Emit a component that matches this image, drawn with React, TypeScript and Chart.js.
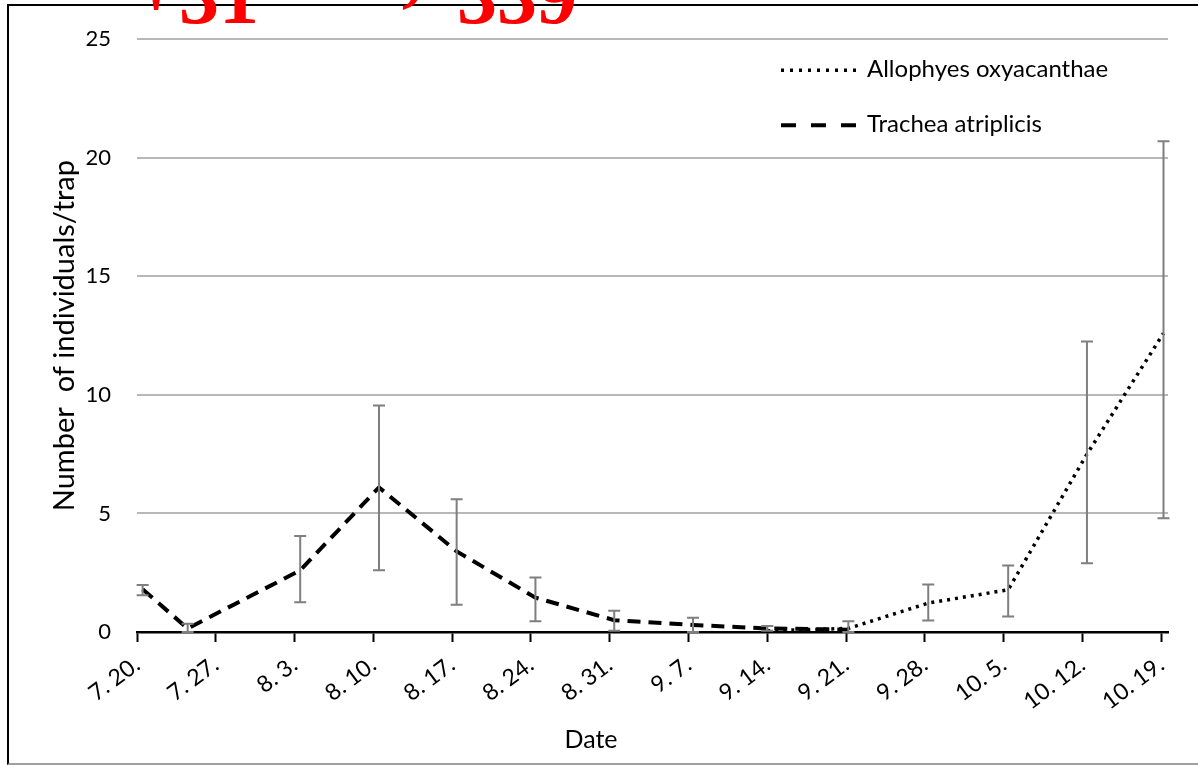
import React, { useEffect, useRef } from "react";
import { Chart, registerables } from "chart.js";

Chart.register(...registerables);

// ---- data ----
const tickLabels = [
  "7. 20.", "7. 27.", "8. 3.", "8. 10.", "8. 17.", "8. 24.", "8. 31.",
  "9. 7.", "9. 14.", "9. 21.", "9. 28.", "10. 5.", "10. 12.", "10. 19.",
];
const tickDays = [0, 7, 14, 21, 28, 35, 42, 49, 56, 63, 70, 77, 84, 91];

const seriesNames = ["Allophyes oxyacanthae", "Trachea atriplicis"];

// Allophyes oxyacanthae (days after 7.20)
const alDays = [56, 63.2, 70.3, 77.4, 84.4, 91.2];
const alMean = [0.05, 0.15, 1.22, 1.78, 7.5, 12.6];
const alLow = [0.05, 0.0, 0.48, 0.65, 2.9, 4.8];
const alHigh = [0.05, 0.45, 2.0, 2.8, 12.25, 20.7];

// Trachea atriplicis
const trDays = [0.5, 4.5, 14.5, 21.5, 28.4, 35.4, 42.4, 49.4, 56, 63.2];
const trMean = [1.8, 0.15, 2.6, 6.1, 3.4, 1.45, 0.5, 0.3, 0.15, 0.1];
const trLow = [1.55, 0.0, 1.25, 2.6, 1.15, 0.45, 0.05, 0.0, 0.05, 0.1];
const trHigh = [1.98, 0.35, 4.05, 9.55, 5.6, 2.3, 0.9, 0.6, 0.25, 0.1];

const yTitle = "Number  of individuals/trap";
const xTitle = "Date";

const FONT = "Lato, 'Open Sans', sans-serif";

const errorSeries = [
  { days: alDays, low: alLow, high: alHigh },
  { days: trDays, low: trLow, high: trHigh },
];

const errorBarPlugin = {
  id: "errorBars",
  afterDatasetsDraw(chart: any) {
    const { ctx, scales } = chart;
    const x = scales.x;
    const y = scales.y;
    ctx.save();
    ctx.strokeStyle = "#7f7f7f";
    ctx.lineWidth = 2;
    for (const s of errorSeries) {
      for (let i = 0; i < s.days.length; i++) {
        if (s.low[i] === s.high[i]) continue;
        const px = x.getPixelForValue(s.days[i]);
        const pl = y.getPixelForValue(s.low[i]);
        const ph = y.getPixelForValue(s.high[i]);
        ctx.beginPath();
        ctx.moveTo(px, pl);
        ctx.lineTo(px, ph);
        ctx.moveTo(px - 6, ph);
        ctx.lineTo(px + 6, ph);
        ctx.moveTo(px - 6, pl);
        ctx.lineTo(px + 6, pl);
        ctx.stroke();
      }
    }
    ctx.restore();
  },
};

const legendPlugin = {
  id: "insideLegend",
  afterDraw(chart: any) {
    const { ctx, chartArea } = chart;
    const x0 = chartArea.left + 644;
    const rows = [chartArea.top + 31, chartArea.top + 86];
    const dashes = [[3, 6], [15, 15]];
    const widths = [3.5, 4];
    ctx.save();
    chart.data.datasets.forEach((ds: any, i: number) => {
      const yy = rows[i];
      ctx.strokeStyle = "#000";
      ctx.lineWidth = widths[i];
      ctx.setLineDash(dashes[i]);
      ctx.beginPath();
      ctx.moveTo(x0, yy);
      ctx.lineTo(x0 + 76, yy);
      ctx.stroke();
      ctx.setLineDash([]);
      ctx.fillStyle = "#000";
      ctx.font = `24px ${FONT}`;
      ctx.textBaseline = "alphabetic";
      ctx.textAlign = "left";
      ctx.fillText(ds.label, x0 + 86, yy + 7);
    });
    ctx.restore();
  },
};

export default function App() {
  const ref = useRef<HTMLCanvasElement | null>(null);

  useEffect(() => {
    if (!ref.current) return;
    const chart = new Chart(ref.current, {
      type: "line",
      data: {
        datasets: [
          {
            label: seriesNames[0],
            data: alDays.map((d, i) => ({ x: d, y: alMean[i] })),
            borderColor: "#000",
            borderWidth: 3.5,
            borderDash: [3, 5],
            pointRadius: 0,
            fill: false,
            tension: 0,
          },
          {
            label: seriesNames[1],
            data: trDays.map((d, i) => ({ x: d, y: trMean[i] })),
            borderColor: "#000",
            borderWidth: 4,
            borderDash: [13, 8],
            pointRadius: 0,
            fill: false,
            tension: 0,
          },
        ],
      },
      options: {
        animation: false,
        responsive: false,
        devicePixelRatio: 1,
        layout: { padding: { left: 0, top: 37, right: 30, bottom: 2 } },
        plugins: {
          legend: { display: false },
          tooltip: { enabled: false },
          title: {
            display: true,
            text: xTitle,
            position: "bottom",
            color: "#000",
            font: { family: FONT, size: 25, weight: "normal" },
            padding: { top: 8, bottom: 8 },
          },
        },
        scales: {
          x: {
            type: "linear",
            min: 0,
            max: 91.6,
            afterBuildTicks: (scale: any) => {
              scale.ticks = tickDays.map((v) => ({ value: v }));
            },
            afterFit: (scale: any) => {
              scale.height = 85;
            },
            ticks: {
              autoSkip: false,
              minRotation: 37,
              maxRotation: 37,
              padding: 9,
              color: "#000",
              font: { family: FONT, size: 23 },
              callback: (_v: any, i: number) => tickLabels[i],
            },
            grid: {
              display: true,
              drawOnChartArea: false,
              drawTicks: true,
              tickLength: 10,
              tickWidth: 2,
              tickColor: "#000",
            },
            border: { display: true, color: "#000", width: 2.5 },
          },
          y: {
            min: 0,
            max: 25,
            afterFit: (scale: any) => {
              scale.width = 123;
            },
            ticks: {
              stepSize: 5,
              padding: 26,
              color: "#000",
              font: { family: FONT, size: 22 },
            },
            grid: {
              drawTicks: false,
              lineWidth: 2,
              color: (c: any) => (c.tick && c.tick.value === 0 ? "rgba(0,0,0,0)" : "#b8b8b8"),
            },
            border: { display: false },
            title: {
              display: true,
              text: yTitle,
              color: "#000",
              font: { family: FONT, size: 29 },
              padding: { top: 33, bottom: 0 },
            },
          },
        },
      },
      plugins: [errorBarPlugin, legendPlugin],
    } as any);
    return () => chart.destroy();
  }, []);

  const redStyle: React.CSSProperties = {
    position: "absolute",
    color: "#ff0000",
    fontFamily: "'Liberation Serif', 'DejaVu Serif', serif",
    fontWeight: "bold",
    fontSize: "80px",
    lineHeight: "80px",
    whiteSpace: "pre",
  };

  return (
    <div
      style={{
        position: "fixed",
        left: 0,
        top: 0,
        width: 1198,
        height: 765,
        background: "#fff",
        overflow: "hidden",
      }}
    >
      <div
        style={{
          position: "absolute",
          left: 7,
          top: 4,
          width: 1191,
          height: 757,
          borderTop: "2px solid #000",
          borderLeft: "2px solid #000",
          borderBottom: "2px solid #a0a0a0",
        }}
      />
      <canvas
        ref={ref}
        width={1184}
        height={765}
        style={{ position: "absolute", left: 14, top: 0, width: 1184, height: 765 }}
      />
      <span style={{ ...redStyle, left: 145, top: -23 }}>'</span>
      <span style={{ ...redStyle, left: 179, top: -44 }}>31</span>
      <span style={{ ...redStyle, left: 398, top: -28 }}>’</span>
      <span style={{ ...redStyle, left: 457, top: -44 }}>339</span>
    </div>
  );
}
